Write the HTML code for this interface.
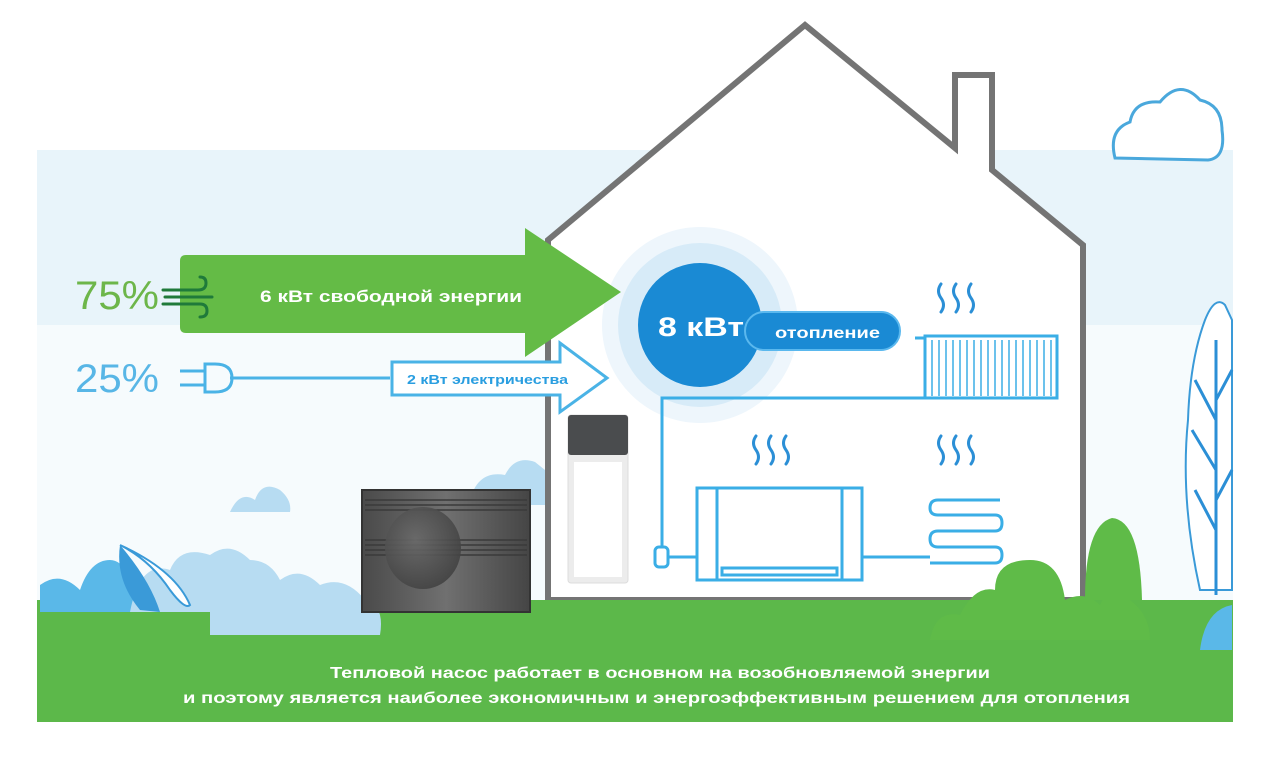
<!DOCTYPE html>
<html><head><meta charset="utf-8"><style>
html,body{margin:0;padding:0;background:#fff;}
svg{display:block;}
text{font-family:"Liberation Sans","DejaVu Sans",sans-serif;font-weight:bold;}
</style></head><body>
<svg width="1267" height="759" viewBox="0 0 1267 759" xmlns="http://www.w3.org/2000/svg">
<defs>
<radialGradient id="fan" cx="0.4" cy="0.4" r="0.7"><stop offset="0" stop-color="#6a6a6a"/><stop offset="1" stop-color="#3e3e3e"/></radialGradient>
<linearGradient id="unit" x1="0" x2="1"><stop offset="0" stop-color="#4a4a4a"/><stop offset="0.5" stop-color="#707070"/><stop offset="1" stop-color="#454545"/></linearGradient>
</defs>
<rect x="37" y="150" width="1196" height="175" fill="#e8f4fa"/>
<rect x="37" y="325" width="1196" height="280" fill="#f6fbfd"/>
<path d="M1115,158 Q1108,130 1130,122 Q1134,100 1160,102 Q1180,78 1200,100 Q1222,105 1222,130 Q1226,158 1208,160 Z" fill="#fff" stroke="#4aa8dc" stroke-width="3"/>
<path d="M548,240 L805,25 L955,148 L955,75 L992,75 L992,170 L1083,245 L1083,600 L548,600 Z" fill="#fff" stroke="#747474" stroke-width="6" stroke-linejoin="miter"/>
<path d="M1200,590 Q1180,500 1188,420 Q1190,360 1205,320 Q1215,295 1225,305 L1232,320 L1232,590 Z" fill="#fff" stroke="#3a9ad8" stroke-width="2"/>
<path d="M1216,340 L1216,595 M1216,420 L1195,380 M1216,470 L1192,430 M1216,530 L1195,490 M1216,400 L1232,370 M1216,500 L1232,470" stroke="#2b8fd6" stroke-width="3" fill="none"/>
<path d="M230,512 Q240,490 255,500 Q262,480 280,490 Q292,500 290,512 Z" fill="#b7dcf2"/>
<path d="M470,500 Q478,470 505,475 Q515,455 535,462 L545,470 L545,505 L470,505 Z" fill="#b7dcf2"/>
<rect x="37" y="600" width="1196" height="122" fill="#5cb84a"/>
<path d="M40,612 L40,585 Q60,570 80,590 Q90,560 110,560 Q130,560 140,612 Z" fill="#5ab8e8"/>
<path d="M130,612 Q140,560 170,570 Q180,545 210,555 Q230,540 250,560 Q270,560 280,580 Q300,565 320,585 Q345,575 365,600 Q385,605 380,635 L210,635 L210,612 Z" fill="#b7dcf2"/>
<path d="M120,545 Q150,560 170,590 Q185,610 190,605 Q175,570 120,545 Z" fill="#fff" stroke="#3a9ad8" stroke-width="2"/>
<path d="M120,545 Q115,580 140,610 L160,612 Q150,580 120,545 Z" fill="#3a9ad8"/>
<path d="M930,640 Q935,610 960,615 Q975,585 995,590 Q995,560 1030,560 Q1060,560 1065,600 Q1085,590 1100,605 Q1110,580 1130,600 Q1150,615 1150,640 Z" fill="#5fbb48"/>
<path d="M1085,600 Q1085,525 1112,518 Q1140,520 1142,600 Z" fill="#5fbb48"/>
<path d="M1200,650 Q1205,610 1232,605 L1232,650 Z" fill="#5ab8e8"/>
<rect x="362" y="490" width="168" height="122" fill="url(#unit)" stroke="#333" stroke-width="2"/>
<g stroke="#3a3a3a" stroke-width="1.5">
<line x1="365" y1="500" x2="527" y2="500"/><line x1="365" y1="505" x2="527" y2="505"/><line x1="365" y1="510" x2="527" y2="510"/>
<line x1="365" y1="540" x2="527" y2="540"/><line x1="365" y1="545" x2="527" y2="545"/><line x1="365" y1="550" x2="527" y2="550"/><line x1="365" y1="555" x2="527" y2="555"/>
</g>
<ellipse cx="423" cy="548" rx="38" ry="41" fill="url(#fan)" opacity="0.9"/>
<rect x="568" y="415" width="60" height="168" rx="3" fill="#ececec" stroke="#ddd"/>
<rect x="574" y="462" width="48" height="115" fill="#fff"/>
<rect x="568" y="415" width="60" height="40" rx="3" fill="#4a4c4e"/>
<circle cx="700" cy="325" r="98" fill="#eef6fc"/>
<circle cx="700" cy="325" r="82" fill="#d7ebf8"/>
<g stroke="#3aaee6" stroke-width="3" fill="none">
<path d="M662,555 L662,398 L1058,398"/>
<path d="M668,557 L697,557 M862,557 L930,557"/>
<rect x="655" y="547" width="13" height="20" rx="4" fill="#fff"/>
<rect x="925" y="336" width="132" height="62" fill="#fff"/>
<line x1="915" y1="338" x2="925" y2="338"/>
<rect x="697" y="488" width="165" height="92" fill="#fff"/>
<line x1="717" y1="488" x2="717" y2="580"/><line x1="842" y1="488" x2="842" y2="580"/>
<rect x="722" y="568" width="115" height="7"/>
<path d="M1000,500 L938,500 Q930,500 930,508 Q930,515 938,515 L995,515 Q1002,515 1002,523 Q1002,531 995,531 L938,531 Q930,531 930,539 Q930,547 938,547 L995,547 Q1002,547 1002,555 Q1002,563 995,563 L930,563"/>
</g>
<g stroke="#3aaee6" stroke-width="1.5">
<line x1="932" y1="340" x2="932" y2="396"/><line x1="939" y1="340" x2="939" y2="396"/><line x1="946" y1="340" x2="946" y2="396"/><line x1="953" y1="340" x2="953" y2="396"/><line x1="960" y1="340" x2="960" y2="396"/><line x1="967" y1="340" x2="967" y2="396"/><line x1="974" y1="340" x2="974" y2="396"/><line x1="981" y1="340" x2="981" y2="396"/><line x1="988" y1="340" x2="988" y2="396"/><line x1="995" y1="340" x2="995" y2="396"/><line x1="1002" y1="340" x2="1002" y2="396"/><line x1="1009" y1="340" x2="1009" y2="396"/><line x1="1016" y1="340" x2="1016" y2="396"/><line x1="1023" y1="340" x2="1023" y2="396"/><line x1="1030" y1="340" x2="1030" y2="396"/><line x1="1037" y1="340" x2="1037" y2="396"/><line x1="1044" y1="340" x2="1044" y2="396"/><line x1="1051" y1="340" x2="1051" y2="396"/>
</g>
<g stroke="#2b8fd6" stroke-width="3" fill="none" stroke-linecap="round">
<path d="M941,284 q-5,7 0,14 q5,7 0,14"/><path d="M956,284 q-5,7 0,14 q5,7 0,14"/><path d="M971,284 q-5,7 0,14 q5,7 0,14"/>
<path d="M756,436 q-5,7 0,14 q5,7 0,14"/><path d="M771,436 q-5,7 0,14 q5,7 0,14"/><path d="M786,436 q-5,7 0,14 q5,7 0,14"/>
<path d="M941,436 q-5,7 0,14 q5,7 0,14"/><path d="M956,436 q-5,7 0,14 q5,7 0,14"/><path d="M971,436 q-5,7 0,14 q5,7 0,14"/>
</g>
<path d="M186,255 L525,255 L525,228 L621,292 L525,357 L525,333 L186,333 Q180,333 180,327 L180,261 Q180,255 186,255 Z" fill="#64bb46"/>
<text x="260" y="302" font-size="17" fill="#fff" textLength="262" lengthAdjust="spacingAndGlyphs">6 кВт свободной энергии</text>
<text x="75" y="309" font-size="40" fill="#6db64a" style="font-weight:normal" textLength="84" lengthAdjust="spacingAndGlyphs">75%</text>
<g stroke="#1f7a3a" stroke-width="3" fill="none" stroke-linecap="round">
<path d="M163,290 L198,290 Q206,290 206,283 Q206,277 200,277"/>
<path d="M165,297 L212,297"/>
<path d="M163,304 L200,304 Q207,304 207,311 Q207,317 200,317"/>
</g>
<line x1="230" y1="378" x2="390" y2="378" stroke="#4ab3e6" stroke-width="3"/>
<path d="M392,362 L560,362 L560,343 L607,378 L560,412 L560,395 L392,395 Z" fill="#fff" stroke="#4ab3e6" stroke-width="3"/>
<text x="407" y="384" font-size="13" fill="#2a9ee0" textLength="161" lengthAdjust="spacingAndGlyphs">2 кВт электричества</text>
<text x="75" y="392" font-size="40" fill="#58b6e6" style="font-weight:normal" textLength="84" lengthAdjust="spacingAndGlyphs">25%</text>
<g stroke="#4ab3e6" stroke-width="3" fill="none">
<path d="M205,364 L215,364 Q232,364 232,378 Q232,392 215,392 L205,392 Z"/>
<line x1="180" y1="371" x2="205" y2="371"/><line x1="180" y1="385" x2="205" y2="385"/>
</g>
<circle cx="700" cy="325" r="62" fill="#1a8ad4"/>
<rect x="745" y="312" width="155" height="38" rx="19" fill="#1a8ad4" stroke="#5ab8ee" stroke-width="2"/>
<text x="658" y="336" font-size="27" fill="#fff" textLength="86" lengthAdjust="spacingAndGlyphs">8 кВт</text>
<text x="775" y="338" font-size="16" fill="#fff" textLength="105" lengthAdjust="spacingAndGlyphs">отопление</text>
<text x="330" y="678" font-size="16" fill="#fff" textLength="660" lengthAdjust="spacingAndGlyphs">Тепловой насос работает в основном на возобновляемой энергии</text>
<text x="183" y="703" font-size="16" fill="#fff" textLength="947" lengthAdjust="spacingAndGlyphs">и поэтому является наиболее экономичным и энергоэффективным решением для отопления</text>
</svg>
</body></html>
